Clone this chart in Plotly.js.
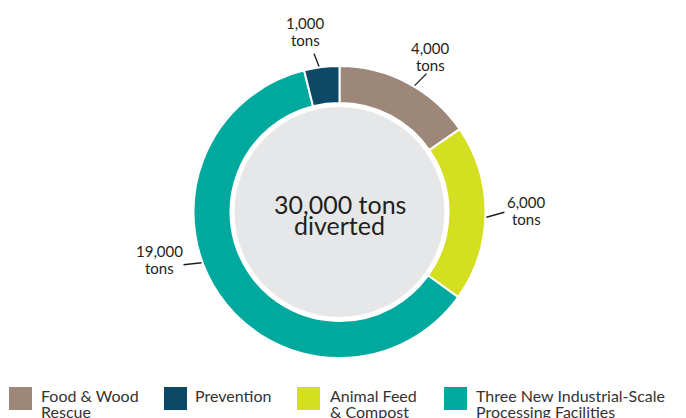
<!DOCTYPE html>
<html>
<head>
<meta charset="utf-8">
<script src="https://cdn.plot.ly/plotly-3.0.1.min.js"></script>
<style>html,body{margin:0;padding:0;background:#fff;}#chart{width:686px;height:418px;}</style>
</head>
<body>
<div id="chart"></div>
<script>
// ---- data (pie order, clockwise from 12 o'clock) ----
const categories = ["Food & Wood Rescue", "Animal Feed & Compost", "Three New Industrial-Scale Processing Facilities", "Prevention"];
// arc sizes as read from the drawn ring (labels are rounded)
const values = [4620, 5850, 18360, 1170];
const valueLabels = ["4,000", "6,000", "19,000", "1,000"];
const unitLabel = "tons";
const centerLines = ["30,000 tons", "diverted"];
const legendOrder = [0, 3, 1, 2];
const legendLines = [["Food & Wood", "Rescue"], ["Animal Feed", "& Compost"], ["Three New Industrial-Scale", "Processing Facilities"], ["Prevention"]];

// ---- style ----
const colors = ["#9c8779", "#d5df22", "#00a99d", "#0e4867"];
const W = 686, H = 418;
const CX = 339.5, CY = 212, R = 146, HOLE_R = 109, GRAY_R = 105;
const FONT = "Lato, 'Open Sans', sans-serif";
const TXT = "#231f20";
// label leader styling (px): angle nudge from slice middle, leader vector, text offset
const angleNudge = [3, 1.5, 14, -1];
const leaderVec = [[12, -12], [18, -5], [-18, 2], [-5, -13]];
const textOff = [[4, -21], [22, -5], [-24, -9], [-8, -25]];
const legendSwatchX = [9, 164, 297, 444];
const legendTextX = [41, 195, 330, 476];

const px = x => x / W;
const py = y => 1 - y / H;

const shapes = [];
const annotations = [];

// center disc
shapes.push({type: "circle", xref: "paper", yref: "paper",
  x0: px(CX - GRAY_R), x1: px(CX + GRAY_R), y0: py(CY + GRAY_R), y1: py(CY - GRAY_R),
  fillcolor: "#e6e7e8", line: {width: 0}, layer: "below"});

centerLines.forEach((t, i) => {
  annotations.push({xref: "paper", yref: "paper", x: px(CX), y: py(203.5 + i * 21.5),
    text: t, showarrow: false, xanchor: "center", yanchor: "middle",
    font: {family: FONT, size: 25, color: TXT}});
});

// slice labels with leader lines
const total = values.reduce((a, b) => a + b, 0);
let cum = 0;
values.forEach((v, i) => {
  const mid = (cum + v / 2) / total * 360;
  cum += v;
  const a = (mid + angleNudge[i]) * Math.PI / 180;
  const sx = CX + (R + 1) * Math.sin(a), sy = CY - (R + 1) * Math.cos(a);
  const ex = sx + leaderVec[i][0], ey = sy + leaderVec[i][1];
  shapes.push({type: "line", xref: "paper", yref: "paper",
    x0: px(sx), y0: py(sy), x1: px(ex), y1: py(ey), line: {color: TXT, width: 1.4}});
  const tx = ex + textOff[i][0], ty = ey + textOff[i][1];
  [valueLabels[i], unitLabel].forEach((t, k) => {
    annotations.push({xref: "paper", yref: "paper", x: px(tx), y: py(ty + k * 17 - 5),
      text: t, showarrow: false, xanchor: "center", yanchor: "middle",
      font: {family: FONT, size: 15, color: TXT}});
  });
});

// legend
legendOrder.forEach((idx, j) => {
  shapes.push({type: "rect", xref: "paper", yref: "paper",
    x0: px(legendSwatchX[j]), x1: px(legendSwatchX[j] + 23), y0: py(410), y1: py(387),
    fillcolor: colors[idx], line: {width: 0}});
  legendLines[idx].forEach((t, k) => {
    annotations.push({xref: "paper", yref: "paper", x: px(legendTextX[j] - 2), y: py(395.5 + k * 15.5),
      text: t, showarrow: false, xanchor: "left", yanchor: "middle",
      font: {family: FONT, size: 16, color: "#333333"}});
  });
});

const trace = {
  type: "pie", labels: categories, values: values, sort: false, direction: "clockwise", rotation: 0,
  hole: HOLE_R / R, textinfo: "none", hoverinfo: "label+value",
  marker: {colors: colors, line: {color: "#ffffff", width: 2}},
  domain: {x: [px(CX - R), px(CX + R)], y: [py(CY + R), py(CY - R)]},
  showlegend: false
};

Plotly.newPlot("chart", [trace], {
  width: W, height: H, margin: {l: 0, r: 0, t: 0, b: 0},
  paper_bgcolor: "#ffffff", showlegend: false,
  shapes: shapes, annotations: annotations
}, {displayModeBar: false, staticPlot: true});
</script>
</body>
</html>
